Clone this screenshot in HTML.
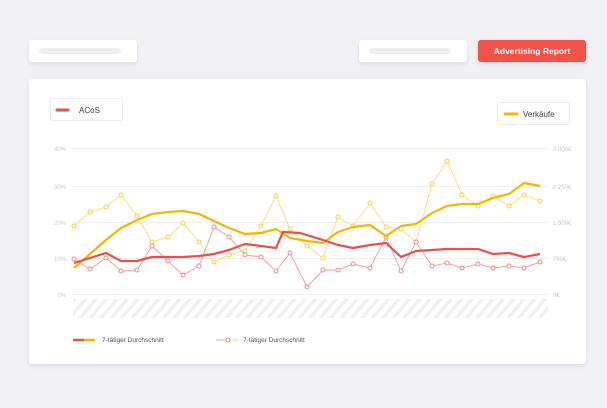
<!DOCTYPE html>
<html><head><meta charset="utf-8"><style>
body{margin:0;width:607px;height:408px;background:#f0f0f5;font-family:"Liberation Sans",sans-serif;position:relative;overflow:hidden}
.box{position:absolute;background:#fff;border-radius:3px;box-shadow:0 2px 4px rgba(0,0,0,.08)}
.bar{position:absolute;height:6px;background:#eeeef0;border-radius:3px}
</style></head><body>
<div class="box" style="left:29px;top:40px;width:108px;height:22px"><div class="bar" style="left:10px;top:8px;width:82px"></div></div>
<div class="box" style="left:359px;top:40px;width:108px;height:22px"><div class="bar" style="left:10px;top:8px;width:82px"></div></div>
<div class="box" style="left:478px;top:40px;width:108px;height:22px;background:#f2524a;color:#fff;font-size:8.5px;font-weight:bold;text-align:center;line-height:22px">Advertising Report</div>
<div class="box" style="left:29px;top:79px;width:557px;height:285px"></div>
<svg width="607" height="408" style="position:absolute;left:0;top:0" font-family="Liberation Sans, sans-serif">
<defs><pattern id="h" width="8" height="8" patternUnits="userSpaceOnUse" patternTransform="rotate(40)"><rect width="3.5" height="8" fill="#f0f0f2"/></pattern></defs>
<rect x="50.5" y="98.5" width="72" height="22" rx="2" fill="#fff" stroke="#ececec"/>
<line x1="57" y1="110" x2="68" y2="110" stroke="#e8504a" stroke-width="3" stroke-linecap="round"/>
<text x="79" y="113" font-size="8" fill="#444">ACoS</text>
<rect x="497.5" y="102.5" width="72" height="22" rx="2" fill="#fff" stroke="#ececec"/>
<line x1="505" y1="114" x2="517" y2="114" stroke="#f2b705" stroke-width="3" stroke-linecap="round"/>
<text x="523" y="117" font-size="8" fill="#444">Verkäufe</text>
<g stroke="#eeeeee" stroke-width="1">
<line x1="73" y1="148.5" x2="548" y2="148.5"/><line x1="73" y1="186.5" x2="548" y2="186.5"/><line x1="73" y1="222.5" x2="548" y2="222.5"/><line x1="73" y1="258.5" x2="548" y2="258.5"/><line x1="73" y1="294.5" x2="548" y2="294.5"/></g>
<g font-size="6" fill="#c8c8c8" text-anchor="end">
<text x="66" y="151">40%</text><text x="66" y="189">30%</text><text x="66" y="225">20%</text><text x="66" y="261">10%</text><text x="66" y="297">0%</text></g>
<g font-size="6" fill="#c8c8c8">
<text x="553" y="151">3.000€</text><text x="553" y="189">2.250€</text><text x="553" y="225">1.500€</text><text x="553" y="261">750€</text><text x="553" y="297">0€</text></g>
<rect x="73" y="299" width="475" height="19" fill="url(#h)"/>
<polyline fill="none" stroke="#fbe07a" stroke-width="1" points="74,226 90,212 106,207 121,195 137,216 152,242 168,237 183,223 199,242 214,262 229,255 245,251 261,226 276,196 290,229 307,246 323,258 338,217 353,226 370,203 386,227 401,229 416,242 432,184 447,161 462,195 478,206 493,196 509,206 524,195 540,201"/>
<polyline fill="none" stroke="#f3a19c" stroke-width="1" points="74,259 90,269 106,258 121,271 137,270 152,246 168,261 183,275 199,266 214,227 229,237 245,255 261,257 276,271 290,253 307,287 323,270 338,270 353,264 370,268 386,237 401,271 416,242 432,266 447,263 462,268 478,264 493,268 509,266 524,268 540,262"/>
<g fill="#fff" stroke="#f7cf3a" stroke-width="1">
<circle cx="74" cy="226" r="2"/><circle cx="90" cy="212" r="2"/><circle cx="106" cy="207" r="2"/><circle cx="121" cy="195" r="2"/><circle cx="137" cy="216" r="2"/><circle cx="152" cy="242" r="2"/><circle cx="168" cy="237" r="2"/><circle cx="183" cy="223" r="2"/><circle cx="199" cy="242" r="2"/><circle cx="214" cy="262" r="2"/><circle cx="229" cy="255" r="2"/><circle cx="245" cy="251" r="2"/><circle cx="261" cy="226" r="2"/><circle cx="276" cy="196" r="2"/><circle cx="290" cy="229" r="2"/><circle cx="307" cy="246" r="2"/><circle cx="323" cy="258" r="2"/><circle cx="338" cy="217" r="2"/><circle cx="353" cy="226" r="2"/><circle cx="370" cy="203" r="2"/><circle cx="386" cy="227" r="2"/><circle cx="401" cy="229" r="2"/><circle cx="416" cy="242" r="2"/><circle cx="432" cy="184" r="2"/><circle cx="447" cy="161" r="2"/><circle cx="462" cy="195" r="2"/><circle cx="478" cy="206" r="2"/><circle cx="493" cy="196" r="2"/><circle cx="509" cy="206" r="2"/><circle cx="524" cy="195" r="2"/><circle cx="540" cy="201" r="2"/></g>
<g fill="#fff" stroke="#ee8a84" stroke-width="1">
<circle cx="74" cy="259" r="2"/><circle cx="90" cy="269" r="2"/><circle cx="106" cy="258" r="2"/><circle cx="121" cy="271" r="2"/><circle cx="137" cy="270" r="2"/><circle cx="152" cy="246" r="2"/><circle cx="168" cy="261" r="2"/><circle cx="183" cy="275" r="2"/><circle cx="199" cy="266" r="2"/><circle cx="214" cy="227" r="2"/><circle cx="229" cy="237" r="2"/><circle cx="245" cy="255" r="2"/><circle cx="261" cy="257" r="2"/><circle cx="276" cy="271" r="2"/><circle cx="290" cy="253" r="2"/><circle cx="307" cy="287" r="2"/><circle cx="323" cy="270" r="2"/><circle cx="338" cy="270" r="2"/><circle cx="353" cy="264" r="2"/><circle cx="370" cy="268" r="2"/><circle cx="386" cy="237" r="2"/><circle cx="401" cy="271" r="2"/><circle cx="416" cy="242" r="2"/><circle cx="432" cy="266" r="2"/><circle cx="447" cy="263" r="2"/><circle cx="462" cy="268" r="2"/><circle cx="478" cy="264" r="2"/><circle cx="493" cy="268" r="2"/><circle cx="509" cy="266" r="2"/><circle cx="524" cy="268" r="2"/><circle cx="540" cy="262" r="2"/></g>
<polyline fill="none" stroke="#f2b705" stroke-width="2.2" stroke-linejoin="round" points="74,268 90,254 106,240 121,228 137,220 152,214 168,212 183,211 199,214 214,221 229,228 245,234 261,233 276,229 290,238 307,241 323,243 338,232 353,227 370,225 386,236 401,226 416,224 432,213 447,206 462,204 478,204 493,198 509,194 524,183 540,186"/>
<polyline fill="none" stroke="#e8504a" stroke-width="2.2" stroke-linejoin="round" points="74,263 90,258 106,253 121,261 137,261 152,257 168,257 183,257 199,256 214,254 229,250 245,244 261,246 276,248 283,232 300,233 323,240 338,245 353,248 370,245 386,243 401,257 416,251 447,249 478,249 493,254 509,253 524,257 540,254"/>
<line x1="73" y1="340" x2="84" y2="340" stroke="#e8504a" stroke-width="2.5"/><line x1="84" y1="340" x2="95" y2="340" stroke="#f2b705" stroke-width="2.5"/>
<text x="102" y="342" font-size="6.5" fill="#555">7-tätiger Durchschnitt</text>
<line x1="216" y1="340" x2="226" y2="340" stroke="#f3a19c" stroke-width="1"/><line x1="230" y1="340" x2="238" y2="340" stroke="#fbe07a" stroke-width="1"/><circle cx="228" cy="340" r="2" fill="#fff" stroke="#ee8a84"/>
<text x="243" y="342" font-size="6.5" fill="#555">7-tätiger Durchschnitt</text>
</svg>
</body></html>
